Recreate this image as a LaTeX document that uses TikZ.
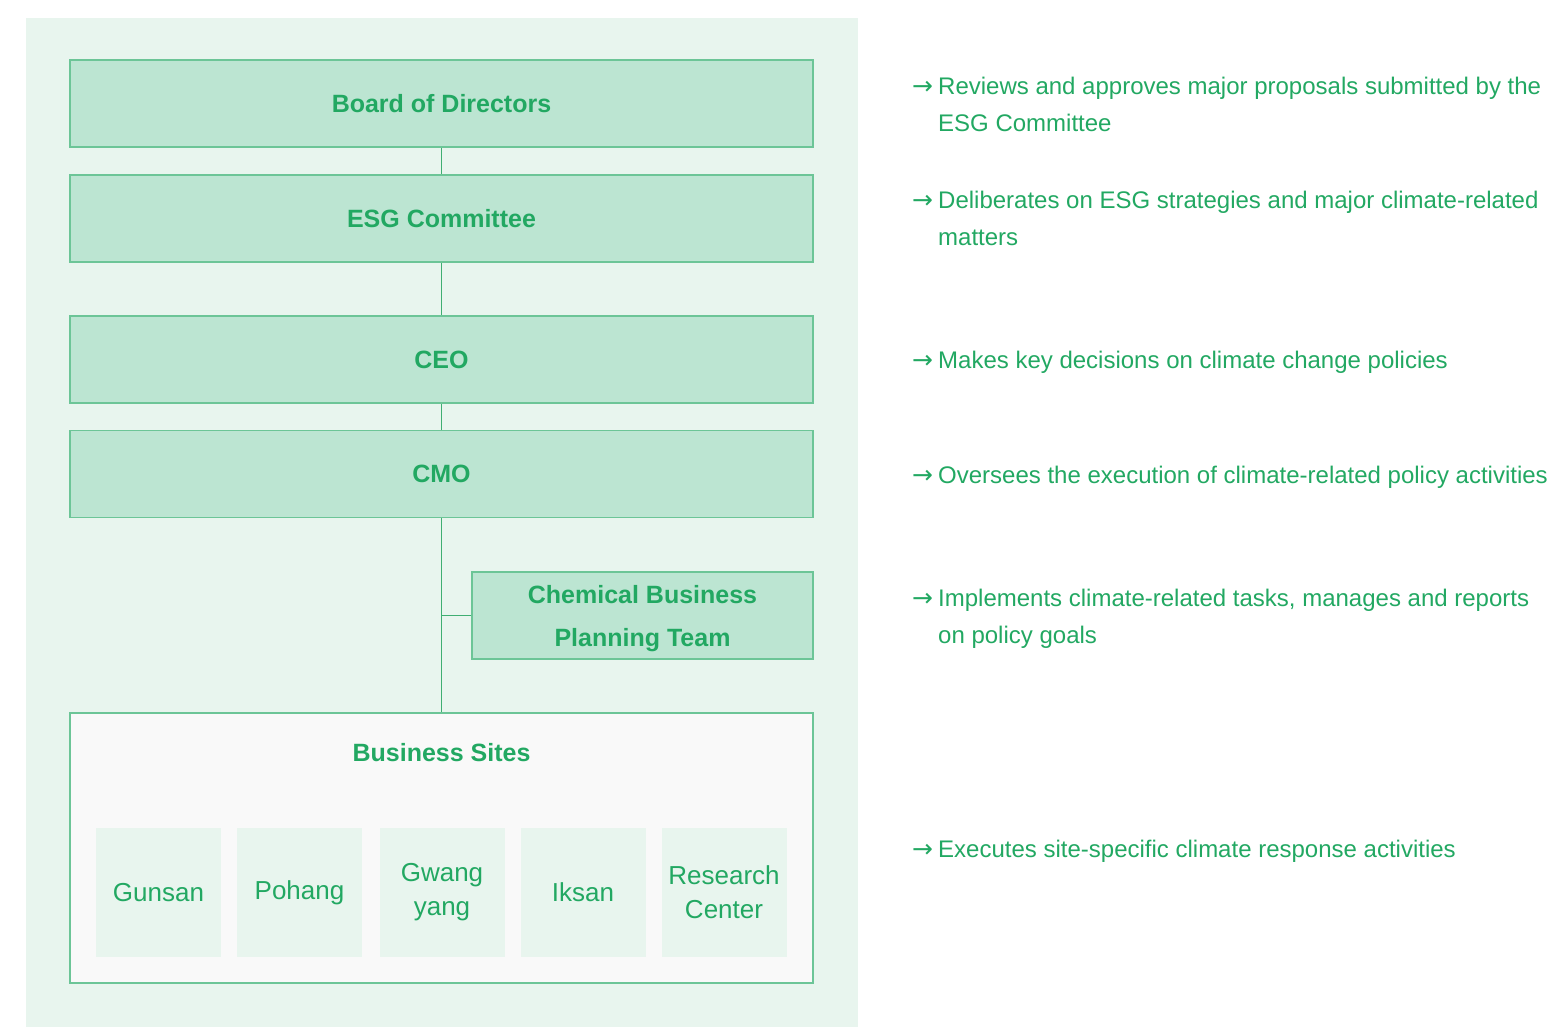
\documentclass[tikz,border=0pt]{standalone}
\usepackage{fontspec}
\setmainfont{Liberation Sans}
\newfontfamily\arrowfont{DejaVu Sans}
\usetikzlibrary{positioning}
\definecolor{esggreen}{HTML}{22A862}
\definecolor{esgline}{HTML}{3FAE72}
\definecolor{esgedge}{HTML}{6CC597}
\definecolor{esgfill}{HTML}{BCE5D2}
\definecolor{esgpanel}{HTML}{E8F5EE}
\definecolor{esgsheet}{HTML}{F9F9F9}
\tikzset{
  org box/.style={rectangle,draw=esgedge,fill=esgfill,line width=1.2pt,
    minimum width=743pt,minimum height=87pt,inner sep=0pt,
    text=esggreen,font=\fontsize{25}{43}\selectfont\bfseries,align=center},
  org link/.style={draw=esgline,line width=1.2pt},
  site frame/.style={rectangle,draw=esgedge,fill=esgsheet,line width=1.2pt,
    minimum width=743pt,minimum height=270pt,inner sep=0pt},
  site box/.style={rectangle,fill=esgpanel,minimum width=125pt,
    minimum height=129pt,inner sep=0pt,text=esggreen,
    font=\fontsize{26}{34}\selectfont,align=center},
  role text/.style={anchor=base west,inner sep=0pt,text=esggreen,
    font=\fontsize{24}{37}\selectfont,align=left}
}
\newcommand{\rolearrow}{\makebox[26pt][l]{\arrowfont\fontsize{25}{25}\selectfont →}}
\begin{document}
\begin{tikzpicture}[x=1pt,y=-1pt]
  \useasboundingbox (0,0) rectangle (1557,1027);
  \fill[esgpanel] (26,18) rectangle (858,1027);

  % chain of command
  \node[org box] (board) at (441.5,103.5) {Board of Directors};
  \node[org box] (esg) at (441.5,218.5) {ESG Committee};
  \node[org box] (ceo) at (441.5,359.5) {CEO};
  \node[org box] (cmo) at (441.5,474) {CMO};
  \node[org box,minimum width=341pt,text depth=-3pt] (chem) at (642.5,615.5)
    {Chemical Business\\Planning Team};
  \node[site frame] (sites) at (441.5,848) {};
  \node[text=esggreen,font=\fontsize{25}{30}\selectfont\bfseries]
    (sitestitle) at (441.5,753) {Business Sites};

  \foreach \cx/\name/\label in {158.5/gunsan/Gunsan,299.5/pohang/Pohang,
      442/gwangyang/{Gwang\\yang},583/iksan/Iksan,724/research/{Research\\Center}}
    \node[site box] (\name) at (\cx,892.5) {\label};

  \draw[org link] (board) -- (esg);
  \draw[org link] (esg) -- (ceo);
  \draw[org link] (ceo) -- (cmo);
  \draw[org link] (cmo) -- (sites);
  \draw[org link] (chem.west) -- (chem.west -| cmo.south);

  % roles (two-line nodes sit on their last baseline)
  \node[role text] (roleboard) at (912,131.5)
    {\rolearrow Reviews and approves major proposals submitted by the\\
     \hspace*{26pt}ESG Committee};
  \node[role text] (roleesg) at (912,245.5)
    {\rolearrow Deliberates on ESG strategies and major climate-related\\
     \hspace*{26pt}matters};
  \node[role text] (roleceo) at (912,368.5)
    {\rolearrow Makes key decisions on climate change policies};
  \node[role text] (rolecmo) at (912,483.5)
    {\rolearrow Oversees the execution of climate-related policy activities};
  \node[role text] (rolechem) at (912,643.5)
    {\rolearrow Implements climate-related tasks, manages and reports\\
     \hspace*{26pt}on policy goals};
  \node[role text] (rolesites) at (912,857.5)
    {\rolearrow Executes site-specific climate response activities};
\end{tikzpicture}
\end{document}
